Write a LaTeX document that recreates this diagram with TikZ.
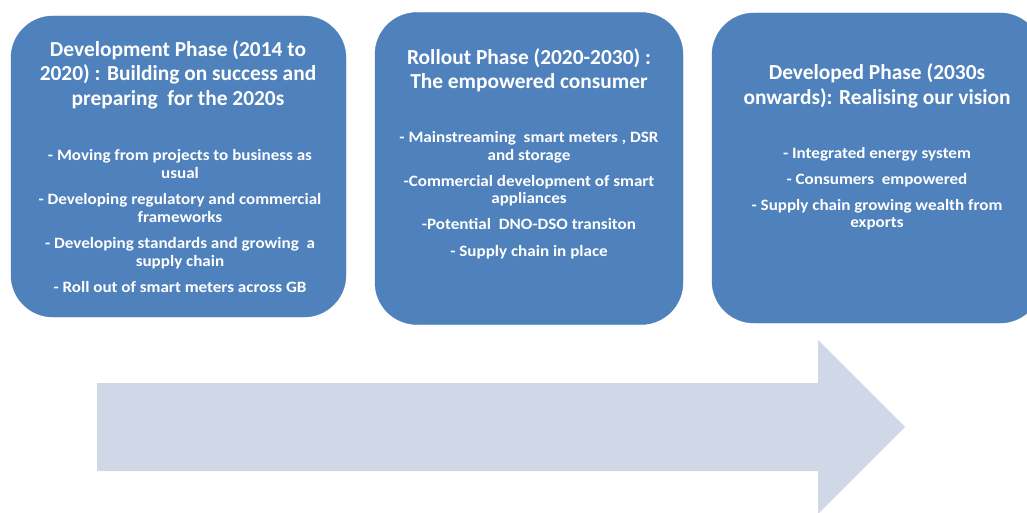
\documentclass[tikz,border=0pt]{standalone}
\usepackage{fontspec}
\setmainfont{Carlito}
\newfontfamily\phasefont[FakeStretch=1.08]{Carlito}
\usetikzlibrary{positioning}
\definecolor{phaseblue}{HTML}{4F81BD}
\definecolor{arrowgrey}{HTML}{D0D8E8}
\tikzset{
  phasebox/.style={draw=phaseblue, fill=phaseblue, rounded corners=42pt, inner sep=0pt},
  phasetitle/.style={text=white, font=\bfseries\fontsize{21.4}{24.5}\selectfont, align=center, inner sep=0pt},
  phasebody/.style={text=white, font=\phasefont\bfseries\fontsize{15.8}{17.5}\selectfont, align=center, inner sep=0pt}
}
\begin{document}
\begin{tikzpicture}[x=1pt, y=1pt]
    \useasboundingbox (0,0) rectangle (1027,512);
    \clip (0,0) rectangle (1027,512);
    % timeline arrow
    \fill[arrowgrey] (97,129) -- (818,129) -- (818,172) -- (905,85)
        -- (818,-2) -- (818,41) -- (97,41) -- cycle;
    % phase boxes
    \node[phasebox, minimum width=335pt, minimum height=301pt] (dev) at (178.5,345.5) {};
    \node[phasebox, minimum width=308pt, minimum height=312pt] (roll) at (529,343.5) {};
    \node[phasebox, minimum width=330pt, minimum height=310pt] (done) at (877,344) {};
    % titles
    \node[phasetitle] (devtitle) at (178,437.5) {Development Phase (2014 to\\2020) : Building on success and\\preparing\ \ for the 2020s};
    \node[phasetitle] (rolltitle) at (529,442) {Rollout Phase (2020-2030) :\\The empowered consumer};
    \node[phasetitle] (donetitle) at (877,426) {Developed Phase (2030s\\onwards): Realising our vision};
    % items
    \node[phasebody] (devbody) at (180,290.5) {- Moving from projects to business as\\usual\\[9pt]
        - Developing regulatory and commercial\\frameworks\\[9pt]
        - Developing standards and growing\ \ a\\supply chain\\[9pt]
        - Roll out of smart meters across GB};
    \node[phasebody] (rollbody) at (529,317) {- Mainstreaming\ \ smart meters , DSR\\and storage\\[8.5pt]
        -Commercial development of smart\\appliances\\[8.5pt]
        -Potential\ \ DNO-DSO transiton\\[9pt]
        - Supply chain in place};
    \node[phasebody] (donebody) at (877,323.5) {- Integrated energy system\\[9pt]
        - Consumers\ \ empowered\\[8pt]
        - Supply chain growing wealth from\\exports};
\end{tikzpicture}
\end{document}
